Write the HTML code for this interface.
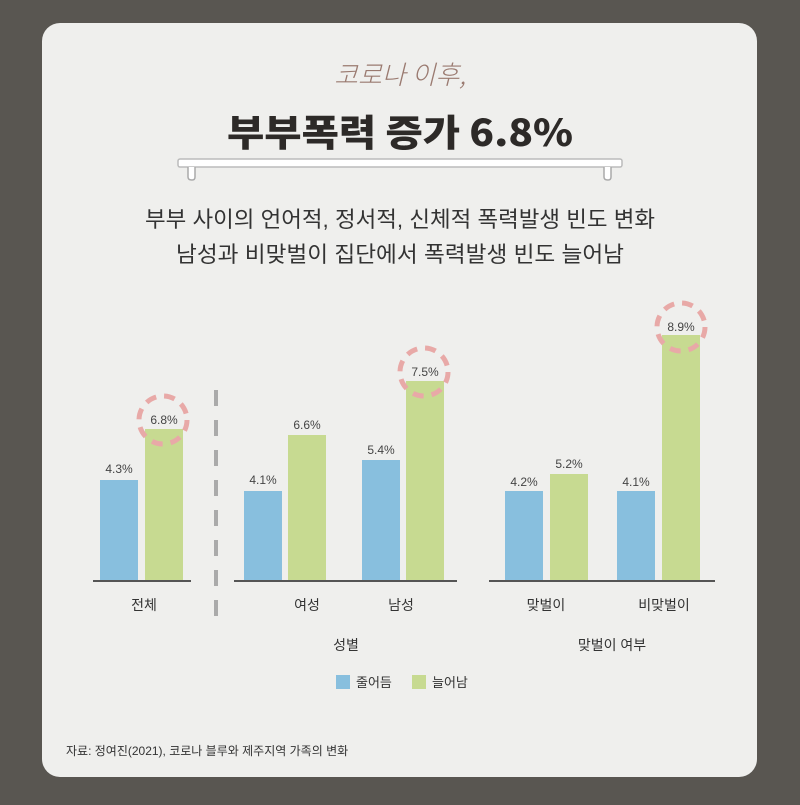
<!DOCTYPE html>
<html><head><meta charset="utf-8"><style>
html,body{margin:0;padding:0;background:#595651;}
body{width:800px;height:800px;overflow:hidden;}
text{font-family:"Liberation Sans","Noto Sans CJK KR",sans-serif;}
</style></head><body>
<svg width="800" height="800" xmlns="http://www.w3.org/2000/svg">
<rect x="0" y="0" width="800" height="800" fill="#595651"/>
<rect x="42" y="23" width="715" height="754" rx="18" fill="#efefed"/>
<text x="400" y="84" text-anchor="middle" font-size="26" fill="#9a7a70" font-style="italic" font-weight="300" style="font-family:'Noto Sans CJK KR',sans-serif">코로나 이후,</text>
<text x="400" y="146" text-anchor="middle" font-size="37" font-weight="900" fill="#2d2a28" style="font-family:'Noto Sans CJK KR',sans-serif" textLength="346" lengthAdjust="spacingAndGlyphs">부부폭력 증가 6.8%</text>
<rect x="178" y="159" width="444" height="8" rx="2" fill="#fff" stroke="#bbb" stroke-width="1.5"/>
<path d="M188 167 v10 q0 3 4 3 q3 0 3 -3 v-10" fill="#fff" stroke="#aaa" stroke-width="1.5"/>
<path d="M604 167 v10 q0 3 4 3 q3 0 3 -3 v-10" fill="#fff" stroke="#aaa" stroke-width="1.5"/>
<text x="400" y="227" text-anchor="middle" font-size="22" fill="#333" textLength="510" lengthAdjust="spacingAndGlyphs">부부 사이의 언어적, 정서적, 신체적 폭력발생 빈도 변화</text>
<text x="400" y="262" text-anchor="middle" font-size="22" fill="#333" textLength="448" lengthAdjust="spacingAndGlyphs">남성과 비맞벌이 집단에서 폭력발생 빈도 늘어남</text>
<g fill="#88bfde">
<rect x="100" y="480" width="38" height="101"/>
<rect x="244" y="491" width="38" height="90"/>
<rect x="362" y="460" width="38" height="121"/>
<rect x="505" y="491" width="38" height="90"/>
<rect x="617" y="491" width="38" height="90"/>
</g>
<g fill="#c7da91">
<rect x="145" y="429" width="38" height="152"/>
<rect x="288" y="435" width="38" height="146"/>
<rect x="406" y="381" width="38" height="200"/>
<rect x="550" y="474" width="38" height="107"/>
<rect x="662" y="335" width="38" height="246"/>
</g>
<g fill="#555">
<rect x="93" y="580" width="98" height="2"/>
<rect x="234" y="580" width="223" height="2"/>
<rect x="489" y="580" width="226" height="2"/>
</g>
<line x1="216" y1="390" x2="216" y2="620" stroke="#aaa" stroke-width="4" stroke-dasharray="16,14"/>
<g fill="none" stroke="#e8a9a7" stroke-width="5" stroke-dasharray="11,8">
<circle cx="163" cy="420" r="24"/>
<circle cx="424" cy="372" r="24"/>
<circle cx="681" cy="327" r="24"/>
</g>
<g font-size="12" fill="#444" text-anchor="middle">
<text x="119" y="473">4.3%</text>
<text x="164" y="424">6.8%</text>
<text x="263" y="484">4.1%</text>
<text x="307" y="429">6.6%</text>
<text x="381" y="454">5.4%</text>
<text x="425" y="376">7.5%</text>
<text x="524" y="486">4.2%</text>
<text x="569" y="468">5.2%</text>
<text x="636" y="486">4.1%</text>
<text x="681" y="331">8.9%</text>
</g>
<g font-size="14" fill="#333" text-anchor="middle">
<text x="144" y="610">전체</text>
<text x="307" y="610">여성</text>
<text x="401" y="610">남성</text>
<text x="546" y="610">맞벌이</text>
<text x="664" y="610">비맞벌이</text>
<text x="346" y="650">성별</text>
<text x="612" y="650">맞벌이 여부</text>
</g>
<rect x="336" y="675" width="14" height="14" fill="#88bfde"/>
<text x="356" y="687" font-size="13" fill="#333">줄어듬</text>
<rect x="412" y="675" width="14" height="14" fill="#c7da91"/>
<text x="432" y="687" font-size="13" fill="#333">늘어남</text>
<text x="66" y="755" font-size="12" fill="#333">자료: 정여진(2021), 코로나 블루와 제주지역 가족의 변화</text>
</svg>
</body></html>
